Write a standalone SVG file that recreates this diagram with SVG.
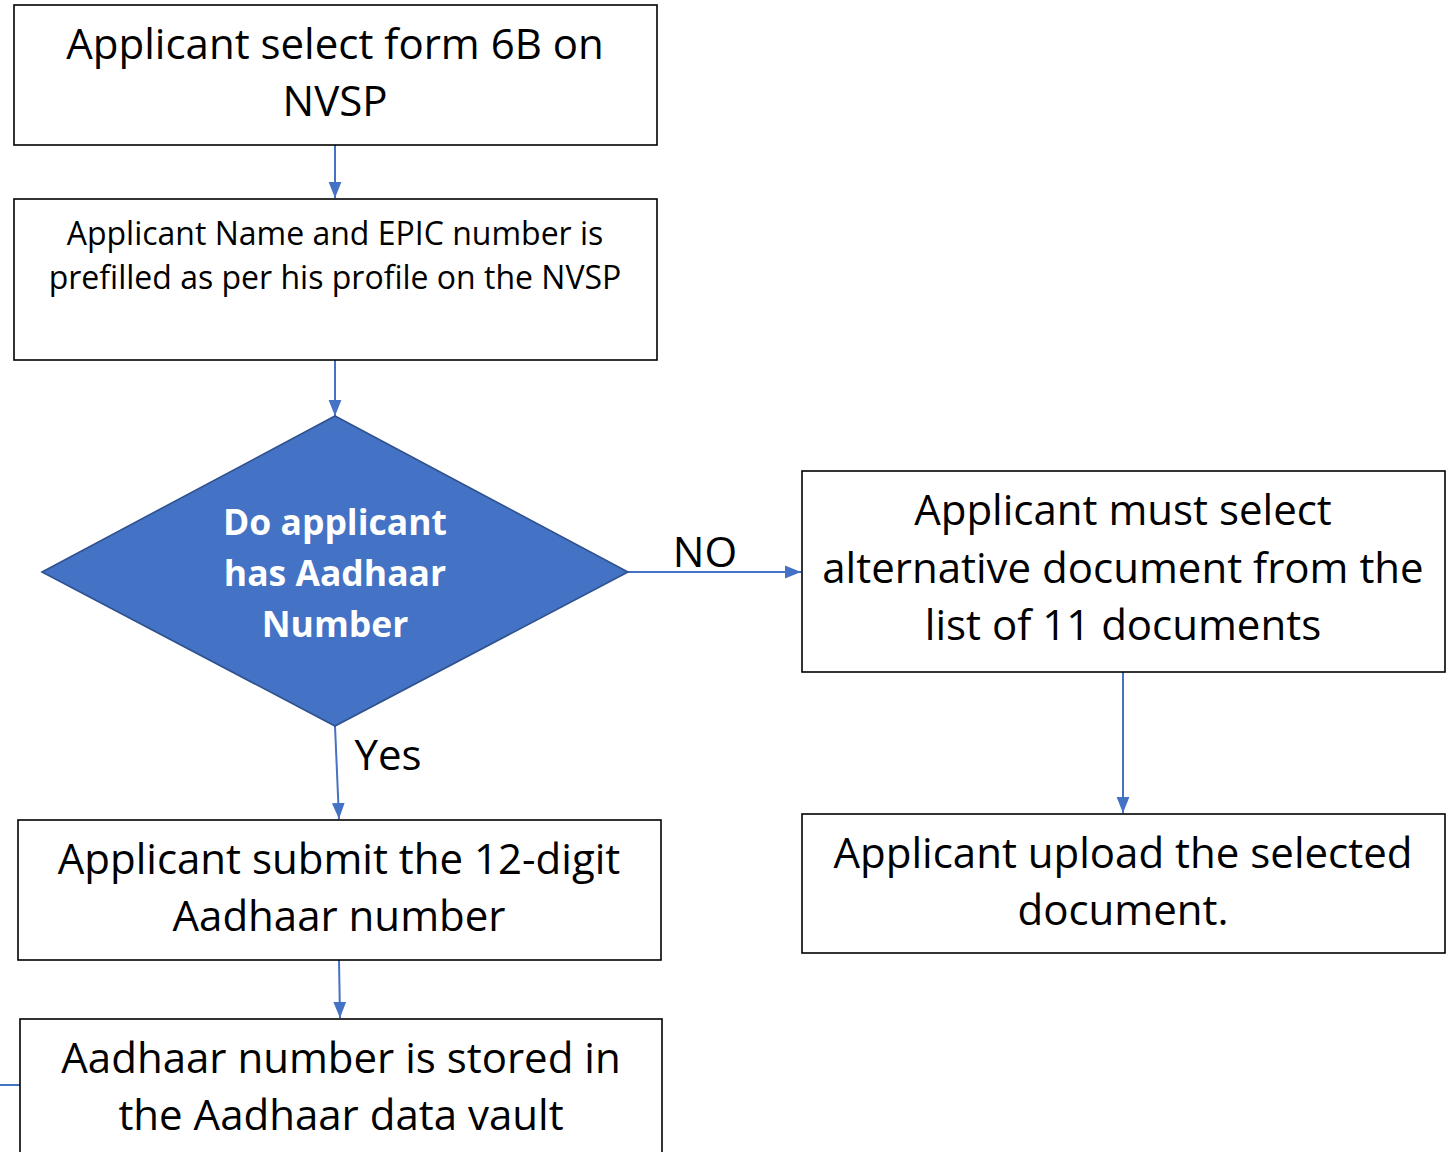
<svg xmlns="http://www.w3.org/2000/svg" width="1448" height="1152" viewBox="0 0 1448 1152">
<style>
.box{fill:#fff;stroke:#000;stroke-width:1.6}
.t{font-family:"Open Sans","Liberation Sans",sans-serif;fill:#000;text-anchor:middle}
.big{font-size:42px}
.small{font-size:32px}
.dt{font-family:"Open Sans","Liberation Sans",sans-serif;font-weight:bold;font-size:35.5px;fill:#fff;text-anchor:middle}
.c{stroke:#4472C4;stroke-width:2;fill:none}
</style>
<defs>
<marker id="a" viewBox="0 0 10 10" refX="10" refY="5" markerWidth="16" markerHeight="16" markerUnits="userSpaceOnUse" orient="auto">
<path d="M0,1 L10,5 L0,9 Z" fill="#4472C4"/>
</marker>
</defs>
<g id="connectors">
<line class="c" x1="335" y1="145" x2="335" y2="198" marker-end="url(#a)"/>
<line class="c" x1="335" y1="360" x2="335" y2="416" marker-end="url(#a)"/>
<line class="c" x1="628" y1="572" x2="801" y2="572" marker-end="url(#a)"/>
<line class="c" x1="335" y1="726" x2="339" y2="819" marker-end="url(#a)"/>
<line class="c" x1="1123" y1="672" x2="1123" y2="813" marker-end="url(#a)"/>
<line class="c" x1="339" y1="960" x2="340" y2="1018" marker-end="url(#a)"/>
<line class="c" x1="0" y1="1085" x2="20" y2="1085"/>
<text class="t big" x="705" y="567">NO</text>
<text class="t big" x="388" y="770">Yes</text>
</g>
<g id="n1">
<rect class="box" x="14" y="5" width="643" height="140"/>
<text class="t big" x="335" y="59">Applicant select form 6B on</text>
<text class="t big" x="335" y="116">NVSP</text>
</g>
<g id="n2">
<rect class="box" x="14" y="199" width="643" height="161"/>
<text class="t small" x="335" y="245">Applicant Name and EPIC number is</text>
<text class="t small" x="335" y="289">prefilled as per his profile on the NVSP</text>
</g>
<g id="n3">
<polygon points="335,416 628,572 335,726 42,572" fill="#4472C4" stroke="#2F528F" stroke-width="1.6"/>
<text class="dt" x="335" y="535">Do applicant</text>
<text class="dt" x="335" y="586">has Aadhaar</text>
<text class="dt" x="335" y="637">Number</text>
</g>
<g id="n4">
<rect class="box" x="802" y="471" width="643" height="201"/>
<text class="t big" x="1123" y="525">Applicant must select</text>
<text class="t big" x="1123" y="583">alternative document from the</text>
<text class="t big" x="1123" y="640">list of 11 documents</text>
</g>
<g id="n5">
<rect class="box" x="802" y="814" width="643" height="139"/>
<text class="t big" x="1123" y="868">Applicant upload the selected</text>
<text class="t big" x="1123" y="925">document.</text>
</g>
<g id="n6">
<rect class="box" x="18" y="820" width="643" height="140"/>
<text class="t big" x="339" y="874">Applicant submit the 12-digit</text>
<text class="t big" x="339" y="931">Aadhaar number</text>
</g>
<g id="n7">
<rect class="box" x="20" y="1019" width="642" height="140"/>
<text class="t big" x="341" y="1073">Aadhaar number is stored in</text>
<text class="t big" x="341" y="1130">the Aadhaar data vault</text>
</g>
</svg>
